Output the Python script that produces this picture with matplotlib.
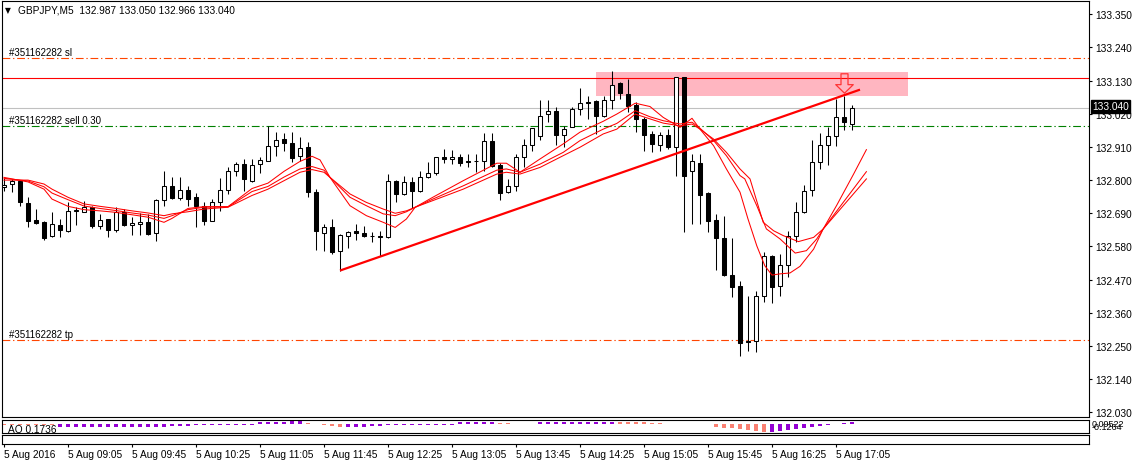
import matplotlib
matplotlib.use('Agg')
import matplotlib.pyplot as plt
from matplotlib.path import Path
from matplotlib.patches import Rectangle
import numpy as np

plt.rcParams['font.family'] = ['Liberation Sans', 'DejaVu Sans']

# ---------------- data ----------------
symbol_header = "GBPJPY,M5  132.987 133.050 132.966 133.040"
opens = [132.776, 132.786, 132.796, 132.724, 132.669, 132.660, 132.613, 132.651, 132.630, 132.699,
         132.695, 132.710, 132.647, 132.671, 132.633, 132.695, 132.651, 132.654, 132.660, 132.623,
         132.734, 132.779, 132.740, 132.767, 132.743, 132.713, 132.666, 132.726, 132.767, 132.829,
         132.853, 132.796, 132.853, 132.864, 132.912, 132.936, 132.923, 132.881, 132.909, 132.759,
         132.623, 132.643, 132.566, 132.616, 132.630, 132.623, 132.614, 132.615, 132.610, 132.796,
         132.754, 132.793, 132.763, 132.809, 132.824, 132.876, 132.869, 132.876, 132.862, 132.864,
         132.864, 132.931, 132.850, 132.759, 132.782, 132.878, 132.918, 132.947, 133.019, 133.030,
         132.951, 132.975, 133.036, 133.059, 133.061, 133.014, 133.066, 133.121, 133.086, 133.050,
         133.003, 132.953, 132.918, 132.950, 132.909, 133.141, 132.829, 132.856, 132.757, 132.667,
         132.607, 132.485, 132.448, 132.267, 132.267, 132.414, 132.549, 132.450, 132.519, 132.613,
         132.693, 132.768, 132.859, 132.916, 132.945, 133.008, 132.987]
highs = [132.806, 132.804, 132.801, 132.743, 132.704, 132.666, 132.693, 132.671, 132.726, 132.710,
         132.732, 132.715, 132.688, 132.671, 132.710, 132.704, 132.677, 132.691, 132.688, 132.737,
         132.831, 132.811, 132.809, 132.782, 132.757, 132.726, 132.737, 132.806, 132.842, 132.861,
         132.870, 132.870, 132.876, 132.978, 132.958, 132.956, 132.958, 132.942, 132.928, 132.771,
         132.654, 132.671, 132.621, 132.632, 132.654, 132.649, 132.629, 132.632, 132.820, 132.800,
         132.813, 132.809, 132.831, 132.861, 132.878, 132.903, 132.900, 132.887, 132.885, 132.885,
         132.955, 132.955, 132.856, 132.804, 132.887, 132.936, 132.973, 133.066, 133.064, 133.041,
         132.981, 133.044, 133.106, 133.080, 133.066, 133.080, 133.163, 133.124, 133.135, 133.058,
         133.008, 132.964, 132.958, 132.970, 133.141, 133.141, 132.887, 132.887, 132.759, 132.688,
         132.682, 132.607, 132.466, 132.417, 132.433, 132.563, 132.553, 132.555, 132.630, 132.726,
         132.784, 132.934, 132.955, 132.977, 133.069, 133.078, 133.050]
lows = [132.765, 132.762, 132.715, 132.643, 132.654, 132.602, 132.610, 132.610, 132.627, 132.651,
        132.693, 132.640, 132.638, 132.610, 132.629, 132.649, 132.618, 132.618, 132.618, 132.599,
        132.713, 132.737, 132.735, 132.715, 132.643, 132.651, 132.666, 132.699, 132.754, 132.813,
        132.765, 132.793, 132.824, 132.864, 132.879, 132.898, 132.861, 132.864, 132.743, 132.569,
        132.564, 132.555, 132.500, 132.574, 132.602, 132.610, 132.596, 132.549, 132.608, 132.728,
        132.751, 132.706, 132.759, 132.807, 132.817, 132.856, 132.853, 132.848, 132.845, 132.826,
        132.831, 132.845, 132.734, 132.756, 132.763, 132.842, 132.898, 132.933, 132.992, 132.918,
        132.909, 132.975, 133.017, 133.003, 132.953, 133.010, 133.036, 133.069, 133.025, 132.958,
        132.898, 132.892, 132.898, 132.903, 132.812, 132.629, 132.654, 132.654, 132.627, 132.503,
        132.481, 132.411, 132.218, 132.234, 132.231, 132.395, 132.391, 132.417, 132.477, 132.594,
        132.691, 132.748, 132.837, 132.850, 132.914, 132.966, 132.966]
closes = [132.785, 132.798, 132.726, 132.666, 132.658, 132.608, 132.653, 132.633, 132.699, 132.702,
          132.712, 132.649, 132.669, 132.633, 132.695, 132.651, 132.658, 132.660, 132.622, 132.734,
          132.779, 132.740, 132.767, 132.737, 132.713, 132.666, 132.726, 132.767, 132.829, 132.853,
          132.804, 132.850, 132.867, 132.912, 132.932, 132.923, 132.872, 132.905, 132.759, 132.632,
          132.643, 132.560, 132.618, 132.629, 132.626, 132.616, 132.613, 132.610, 132.796, 132.754,
          132.793, 132.765, 132.809, 132.824, 132.876, 132.869, 132.876, 132.858, 132.859, 132.862,
          132.931, 132.848, 132.756, 132.782, 132.878, 132.918, 132.972, 133.014, 133.030, 132.951,
          132.968, 133.036, 133.055, 133.056, 133.014, 133.066, 133.117, 133.088, 133.047, 133.003,
          132.950, 132.920, 132.950, 132.909, 133.141, 132.812, 132.864, 132.752, 132.665, 132.607,
          132.486, 132.444, 132.260, 132.264, 132.414, 132.549, 132.446, 132.519, 132.613, 132.695,
          132.765, 132.859, 132.916, 132.947, 133.008, 132.992, 133.040]

# three moving-average lines (bar position, price)
ma_fast_x = [0, 3, 5, 6, 8, 10, 12, 14, 16, 18, 20, 21, 23, 25, 28, 31, 33, 35, 37, 38.5, 39.5, 40.75,
             43.25, 45.3, 47.4, 48.9, 50.3, 51.4, 53.6, 57.4, 61.6, 62.8, 64.5, 67, 69.9, 72, 74.9,
             76.6, 78.9, 80.75, 82.4, 84.5, 86, 87, 88.7, 90.3, 92, 93, 94.1, 95.1, 96, 97, 98.25,
             99.5, 101.2, 102.4, 104.1, 106.2, 107.8]
ma_fast_y = [132.809, 132.794, 132.770, 132.737, 132.713, 132.702, 132.698, 132.693, 132.685, 132.677,
             132.660, 132.673, 132.706, 132.712, 132.712, 132.772, 132.790, 132.829, 132.862, 132.879,
             132.867, 132.809, 132.715, 132.682, 132.660, 132.643, 132.671, 132.710, 132.743, 132.798,
             132.856, 132.856, 132.826, 132.870, 132.920, 132.959, 132.995, 133.019, 133.055, 133.044,
             133.008, 132.975, 133.005, 132.969, 132.914, 132.837, 132.760, 132.671, 132.582, 132.516,
             132.485, 132.489, 132.492, 132.514, 132.571, 132.638, 132.717, 132.820, 132.901]
ma_mid_x = [0, 3, 5, 6, 8, 10, 12, 14, 16, 18, 20, 21, 23, 25, 28, 31, 33, 35, 37, 38.5, 40, 40.75,
            43.25, 45.3, 47.4, 48.9, 50.3, 51.4, 53.6, 57.4, 61.6, 62.8, 64.5, 67, 69.9, 72, 74.9,
            76.6, 78.9, 80.75, 82.4, 84.5, 86, 87, 88.7, 90.3, 92, 92.6, 94.1, 95.3, 97, 98.9, 100.3,
            101.6, 102.4, 107.8]
ma_mid_y = [132.806, 132.797, 132.778, 132.757, 132.735, 132.714, 132.706, 132.699, 132.691, 132.684,
            132.673, 132.682, 132.702, 132.710, 132.711, 132.762, 132.779, 132.810, 132.837, 132.845,
            132.833, 132.809, 132.743, 132.715, 132.688, 132.682, 132.695, 132.710, 132.737, 132.781,
            132.833, 132.837, 132.826, 132.853, 132.892, 132.931, 132.969, 132.988, 133.030, 133.010,
            132.997, 132.986, 132.992, 132.972, 132.931, 132.881, 132.815, 132.804, 132.715, 132.638,
            132.605, 132.558, 132.566, 132.605, 132.638, 132.828]
ma_slow_x = [0, 3, 5, 6, 8, 10, 12, 14, 16, 18, 20, 21, 23, 25, 28, 31, 33, 35, 37, 38.5, 40, 40.75,
             43.25, 45.3, 47.4, 48.9, 50.3, 51.4, 53.6, 57.4, 61.6, 62.8, 64.5, 67, 69.9, 72, 74.9,
             76.6, 78.9, 80.75, 82.4, 84.5, 86, 87, 88.7, 90.3, 92, 93.25, 94.9, 96.2, 97.4, 99.3,
             101.2, 102.4, 107.8]
ma_slow_y = [132.800, 132.800, 132.787, 132.770, 132.743, 132.721, 132.713, 132.706, 132.698, 132.691,
             132.682, 132.688, 132.695, 132.704, 132.710, 132.749, 132.770, 132.798, 132.826, 132.835,
             132.826, 132.809, 132.754, 132.726, 132.704, 132.690, 132.698, 132.710, 132.732, 132.770,
             132.820, 132.826, 132.820, 132.842, 132.881, 132.909, 132.953, 132.969, 133.019, 133.003,
             132.989, 132.980, 132.986, 132.969, 132.936, 132.892, 132.837, 132.804, 132.660, 132.632,
             132.616, 132.596, 132.610, 132.638, 132.804]

# Awesome Oscillator values and bar colour codes (u = rising / violet, d = falling / salmon)
ao_values = [-0.06, -0.07, -0.07, -0.08, -0.08, -0.08, -0.09,
             -0.24, -0.24, -0.23, -0.23, -0.23, -0.22, -0.22, -0.22, -0.21, -0.21, -0.21, -0.20,
             -0.20, -0.20, -0.19, -0.19, -0.18,
             -0.07, -0.07, -0.06, -0.06, -0.06, -0.05, -0.05, -0.05,
             0.19, 0.21, 0.23, 0.25, 0.27, 0.28,
             0.15, 0.07, -0.10, -0.18, -0.22,
             -0.22, -0.21, -0.20, -0.19, -0.18,
             -0.07, -0.07, -0.06, -0.06, -0.06, -0.05, -0.05, -0.05, -0.05,
             0.17, 0.18, 0.19, 0.20, 0.21,
             0.08, 0.08, 0.07, 0.07, 0.07,
             0.17, 0.18, 0.18, 0.19, 0.19, 0.20, 0.20, 0.21, 0.21, 0.22,
             0.20, 0.19, 0.18, 0.17,
             0.08, 0.08, 0.07, 0.07, 0.07, 0.06, 0.06, 0.06,
             -0.23, -0.30, -0.37, -0.45, -0.53, -0.60, -0.68,
             -0.74, -0.62, -0.55, -0.42, -0.36, -0.26, -0.13, -0.065, 0.065, 0.13, 0.1736]
ao_dirs = ("ddddddd" + "uuuuuuuuuuuuuuuuu" + "uuuuuuuu" + "uuuuuu" + "ddddd" + "uuuuu"
           + "uuuuuuuuu" + "uuuuu" + "ddddd" + "uuuuuuuuuu" + "dddd" + "dddddddd" + "ddddddd"
           + "uuuuuuuuuuu")
ao_label = "AO 0.1736"
ao_scale_labels = ["0.09522", "-0.1264"]

price_ticks = [133.350, 133.240, 133.130, 133.020, 132.910, 132.800, 132.690,
               132.580, 132.470, 132.360, 132.250, 132.140, 132.030]
time_tick_bars = [0, 8, 16, 24, 32, 40, 48, 56, 64, 72, 80, 88, 96, 104]
time_labels = ["5 Aug 2016", "5 Aug 09:05", "5 Aug 09:45", "5 Aug 10:25", "5 Aug 11:05",
               "5 Aug 11:45", "5 Aug 12:25", "5 Aug 13:05", "5 Aug 13:45", "5 Aug 14:25",
               "5 Aug 15:05", "5 Aug 15:45", "5 Aug 16:25", "5 Aug 17:05"]

# order levels and objects
sl_level = 133.204
hline_level = 133.137
bid_level = 133.040
open_level = 132.981
tp_level = 132.270
sl_text = "#351162282 sl"
open_text = "#351162282 sell 0.30"
tp_text = "#351162282 tp"
rect_bars = (74, 113)
rect_prices = (133.080, 133.160)
trend_bars = [42, 107]
trend_prices = [132.500, 133.100]
arrow_bar = 105
arrow_price = 133.123

# ---------------- layout ----------------
W, H = 1133, 464
fig = plt.figure(figsize=(W / 100, H / 100), dpi=100)
fig.patch.set_facecolor('white')


def rect_px(x0, y0, x1, y1):
    return [x0 / W, 1 - y1 / H, (x1 - x0) / W, (y1 - y0) / H]


ax = fig.add_axes(rect_px(2, 2, 1089, 418))
ax_ao = fig.add_axes(rect_px(2, 421, 1089, 434))
ax_em = fig.add_axes(rect_px(2, 436, 1089, 445))

XL = (-0.25, 135.625)
for a in (ax, ax_ao, ax_em):
    a.set_xlim(*XL)
    for s in a.spines.values():
        s.set_linewidth(0.8)
        s.set_color('black')
ax.set_ylim(132.0143, 133.394)

idx = np.arange(len(opens))
o = np.array(opens); c = np.array(closes); h = np.array(highs); l = np.array(lows)

# background rectangle
ax.add_patch(Rectangle((rect_bars[0], rect_prices[0]), rect_bars[1] - rect_bars[0],
                       rect_prices[1] - rect_prices[0], facecolor='#FFB6C1',
                       edgecolor='none', zorder=0.5))

# horizontal levels
dd = (0, (7, 2.5, 1.2, 2.5))
ax.axhline(sl_level, color='#FF4500', lw=0.8, ls=dd, zorder=1)
ax.axhline(tp_level, color='#FF4500', lw=0.8, ls=dd, zorder=1)
ax.axhline(open_level, color='#008000', lw=0.8, ls=dd, zorder=1)
ax.axhline(hline_level, color='#FF0000', lw=0.8, zorder=1)
ax.axhline(bid_level, color='#C0C0C0', lw=0.8, zorder=1)

ytr = ax.get_yaxis_transform()
for lvl, txt in ((sl_level, sl_text), (open_level, open_text), (tp_level, tp_text)):
    ax.text(0.0062, lvl + 0.003, txt, transform=ytr, fontsize=7, va='bottom', ha='left',
            color='black', zorder=8)

# candles
ax.vlines(idx, l, h, color='black', lw=0.75, zorder=3)
bottoms = np.minimum(o, c)
heights = np.abs(c - o)
faces = ['white' if cc >= oo else 'black' for oo, cc in zip(o, c)]
ax.bar(idx, heights, bottom=bottoms, width=0.52, color=faces, edgecolor='black',
       linewidth=0.75, zorder=4)

# moving averages
for xs, ys in ((ma_slow_x, ma_slow_y), (ma_mid_x, ma_mid_y), (ma_fast_x, ma_fast_y)):
    ax.plot(xs, ys, color='#FF0000', lw=0.75, zorder=5)

# trend line
ax.plot(trend_bars, trend_prices, color='#FF0000', lw=1.6, zorder=6, solid_capstyle='butt')

# hollow down arrow marker
arrow_path = Path([(-0.18, 0.5), (0.18, 0.5), (0.18, -0.06), (0.45, -0.06), (0.0, -0.5),
                   (-0.45, -0.06), (-0.18, -0.06), (-0.18, 0.5)], closed=True)
ax.plot([arrow_bar], [arrow_price], marker=arrow_path, markersize=14,
        markerfacecolor='none', markeredgecolor='#FF3333', markeredgewidth=0.9, zorder=7,
        linestyle='none')

# price axis
ax.yaxis.tick_right()
ax.set_yticks(price_ticks)
ax.set_yticklabels([f"{p:.3f}" for p in price_ticks])
ax.tick_params(axis='y', direction='out', length=2.5, width=0.8, pad=2, labelsize=7.3)
ax.set_xticks([])

# header
fig.text(5 / W, 1 - 10.5 / H, "\u25BC", fontsize=5.5, va='center', ha='left',
         family=['DejaVu Sans'])
fig.text(18 / W, 1 - 10.5 / H, symbol_header, fontsize=7.3, va='center', ha='left')

# bid label
fig.text(1092 / W, 1 - 107.5 / H, f"{bid_level:.3f}", fontsize=7.3, va='center', ha='left',
         color='white', zorder=20,
         bbox=dict(boxstyle='square,pad=0.12', facecolor='black', edgecolor='black'))

# AO panel
ao = np.array(ao_values)
ao_cols = ['#9400D3' if d == 'u' else '#FA8072' for d in ao_dirs]
ax_ao.bar(idx, ao, width=0.45, color=ao_cols, zorder=2)
ax_ao.set_ylim(-0.80, 0.40)
ax_ao.set_xticks([]); ax_ao.set_yticks([])
ax_ao.text(0.0055, 0.28, ao_label, transform=ax_ao.transAxes, fontsize=7.3, va='center', ha='left',
           zorder=1)
fig.text(1092 / W, 1 - 424.5 / H, ao_scale_labels[0], fontsize=6.5, va='center', ha='left')
fig.text(1092 / W, 1 - 427.5 / H, ao_scale_labels[1], fontsize=6.5, va='center', ha='left')

# empty panel with time axis
ax_em.set_yticks([])
ax_em.set_xticks(time_tick_bars)
ax_em.set_xticklabels(time_labels, ha='left')
ax_em.tick_params(axis='x', direction='out', length=2.5, width=0.8, pad=1.2, labelsize=7.3)

fig.savefig('out.png', dpi=100)
